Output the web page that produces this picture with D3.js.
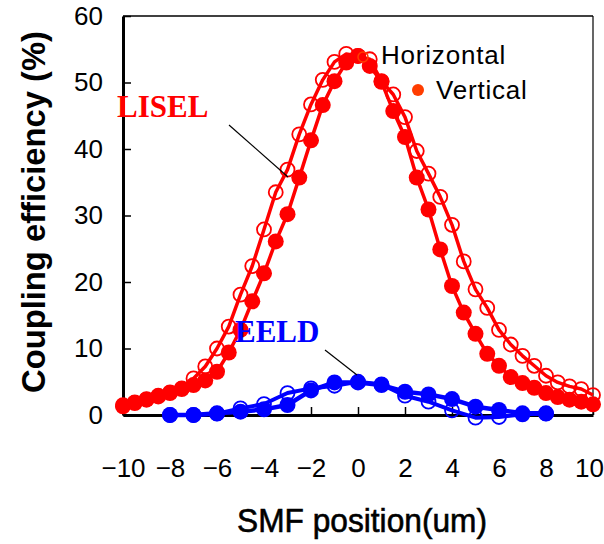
<!DOCTYPE html>
<html>
<head>
<meta charset="utf-8">
<script src="https://cdn.jsdelivr.net/npm/d3@7"></script>
<style>
  body { margin: 0; background: #fff; }
  svg { display: block; }
</style>
</head>
<body>
<svg id="chart" width="604" height="544"></svg>
<script>
// 数据：横轴位置（um）
const liselX = [-10, -9.5, -9, -8.5, -8, -7.5, -7, -6.5, -6, -5.5, -5, -4.5, -4, -3.5, -3, -2.5, -2, -1.5, -1, -0.5,
    0, 0.5, 1, 1.5, 2, 2.5, 3, 3.5, 4, 4.5, 5, 5.5, 6, 6.5, 7, 7.5, 8, 8.5, 9, 9.5, 10];
// LISEL 垂直（实心）
const liselVertical = [1.3, 1.8, 2.3, 2.8, 3.3, 3.9, 4.5, 5.2, 6.5, 9.4, 12.8, 17.1, 21.3, 26.1, 30.2, 35.7, 41.3, 46.6, 50.2, 53.0,
    54.0, 52.5, 50.1, 45.7, 41.8, 35.7, 30.9, 24.9, 19.4, 15.4, 12.2, 9.2, 7.4, 5.7, 4.8, 4.1, 3.3, 2.7, 2.3, 2.0, 1.6];
// LISEL 水平（空心）
const liselHorizontal = [1.5, 1.9, 2.4, 2.9, 3.4, 4.0, 5.5, 7.3, 10.0, 13.3, 18.1, 22.4, 27.9, 33.5, 36.9, 42.2, 46.7, 50.4, 53.1, 54.3,
    54.0, 53.5, 50.2, 48.2, 44.8, 39.7, 36.3, 32.8, 28.6, 23.1, 18.9, 16.1, 12.8, 10.6, 8.9, 7.4, 5.9, 4.9, 4.3, 3.9, 3.0];

const eeldX = [-8, -7, -6, -5, -4, -3, -2, -1, 0, 1, 2, 3, 4, 5, 6, 7, 8];
const eeldVertical = [0, 0, 0.25, 0.5, 0.85, 1.5, 3.7, 4.9, 4.9, 4.5, 3.5, 3.1, 2.4, 1.25, 0.75, 0.25, 0.25];
const eeldHorizontal = [0, 0, 0.2, 1.0, 1.65, 3.3, 4.0, 4.4, 5.0, 4.6, 2.9, 2.0, 0.7, -0.4, -0.3, 0.1, 0.2];

const xTicks = [-10, -8, -6, -4, -2, 0, 2, 4, 6, 8, 10];
const yTicks = [0, 10, 20, 30, 40, 50, 60];

const colors = {
    red: "#ff0000",
    blue: "#0000ff",
    legend: "#ff3d00"
};

const svg = d3.select("#chart");
const margin = { top: 16, right: 11, bottom: 129, left: 123 };
const width = 604, height = 544;
const innerWidth = width - margin.left - margin.right;
const innerHeight = height - margin.top - margin.bottom;

svg.append("rect").attr("width", width).attr("height", height).attr("fill", "#fff");

const x = d3.scaleLinear().domain([-10, 10]).range([0, innerWidth]);
const y = d3.scaleLinear().domain([0, 60]).range([innerHeight, 0]);

const g = svg.append("g")
    .attr("transform", `translate(${margin.left},${margin.top})`);

// 边框（上、右）
g.append("line").attr("x1", 0).attr("x2", innerWidth).attr("y1", 0).attr("y2", 0)
    .attr("stroke", "#000").attr("stroke-width", 1.5);
g.append("line").attr("x1", innerWidth).attr("x2", innerWidth).attr("y1", 0).attr("y2", innerHeight)
    .attr("stroke", "#000").attr("stroke-width", 1.2);

// 坐标轴（刻度朝内）
const xAxis = g.append("g")
    .attr("transform", `translate(0,${innerHeight})`)
    .call(d3.axisBottom(x).tickValues(xTicks).tickSize(-8).tickPadding(44).tickSizeOuter(0));
const yAxis = g.append("g")
    .call(d3.axisLeft(y).tickValues(yTicks).tickSize(-8).tickPadding(20).tickSizeOuter(0));

[xAxis, yAxis].forEach(a => {
    a.select(".domain").attr("stroke", "#000").attr("stroke-width", 3);
    a.selectAll(".tick line").attr("stroke", "#000").attr("stroke-width", 1.5);
    a.selectAll(".tick text")
        .attr("fill", "#000")
        .style("font-family", "'Liberation Sans Narrow', 'Arial Narrow', sans-serif")
        .style("font-size", "26px");
});
// 最右侧刻度标签略向左移，避免被裁切
xAxis.selectAll(".tick text").filter(d => d === 10).attr("dx", -4);

// 坐标轴标题
svg.append("text")
    .attr("x", 362)
    .attr("y", 532)
    .attr("text-anchor", "middle")
    .attr("textLength", 250)
    .attr("lengthAdjust", "spacingAndGlyphs")
    .style("font-family", "'Liberation Sans Narrow', sans-serif")
    .style("font-size", "33px")
    .style("stroke", "#000")
    .style("stroke-width", 0.6)
    .text("SMF position(um)");

svg.append("text")
    .attr("transform", "translate(45,212) rotate(-90)")
    .attr("text-anchor", "middle")
    .attr("textLength", 362)
    .attr("lengthAdjust", "spacingAndGlyphs")
    .style("font-family", "'Liberation Sans', Arial, sans-serif")
    .style("font-weight", "bold")
    .style("font-size", "33px")
    .text("Coupling efficiency (%)");

// 绘制系列
function drawSeries(xs, ys, color, filled, lineWidth, r) {
    const pts = xs.map((v, i) => ({ x: v, y: ys[i] }));
    const line = d3.line().x(d => x(d.x)).y(d => y(d.y));
    g.append("path")
        .datum(pts)
        .attr("d", line)
        .attr("fill", "none")
        .attr("stroke", color)
        .attr("stroke-width", lineWidth)
        .attr("stroke-linejoin", "round");
    g.append("g").selectAll("circle")
        .data(pts)
        .enter()
        .append("circle")
        .attr("cx", d => x(d.x))
        .attr("cy", d => y(d.y))
        .attr("r", r)
        .attr("fill", filled ? color : "none")
        .attr("stroke", color)
        .attr("stroke-width", filled ? 0 : 1.8);
}

drawSeries(liselX, liselHorizontal, colors.red, false, 3.5, 7);
drawSeries(liselX, liselVertical, colors.red, true, 3.5, 8);
drawSeries(eeldX, eeldHorizontal, colors.blue, false, 4, 7);
drawSeries(eeldX, eeldVertical, colors.blue, true, 4.5, 8);

// 图例
svg.append("circle").attr("cx", 363).attr("cy", 57).attr("r", 5)
    .attr("fill", "none").attr("stroke", colors.legend).attr("stroke-width", 1.5);
svg.append("text").attr("x", 381).attr("y", 64)
    .style("font-family", "'Liberation Sans', Arial, sans-serif")
    .style("font-size", "26px")
    .style("letter-spacing", "0.8px")
    .text("Horizontal");
svg.append("circle").attr("cx", 418).attr("cy", 90).attr("r", 6)
    .attr("fill", colors.legend);
svg.append("text").attr("x", 436).attr("y", 99)
    .style("font-family", "'Liberation Sans', Arial, sans-serif")
    .style("font-size", "26px")
    .style("letter-spacing", "0.8px")
    .text("Vertical");

// 标注
svg.append("line").attr("x1", 229).attr("y1", 125).attr("x2", 288).attr("y2", 177)
    .attr("stroke", "#000").attr("stroke-width", 1.2);
svg.append("text").attr("x", 117).attr("y", 117)
    .attr("fill", colors.red)
    .style("font-family", "'Liberation Serif', 'Times New Roman', serif")
    .style("font-weight", "bold")
    .style("font-size", "31px")
    .text("LISEL");

svg.append("line").attr("x1", 325).attr("y1", 350).attr("x2", 357).attr("y2", 375)
    .attr("stroke", "#000").attr("stroke-width", 1.2);
svg.append("text").attr("x", 235).attr("y", 342)
    .attr("fill", colors.blue)
    .style("font-family", "'Liberation Serif', 'Times New Roman', serif")
    .style("font-weight", "bold")
    .style("font-size", "31px")
    .text("EELD");
</script>
</body>
</html>
